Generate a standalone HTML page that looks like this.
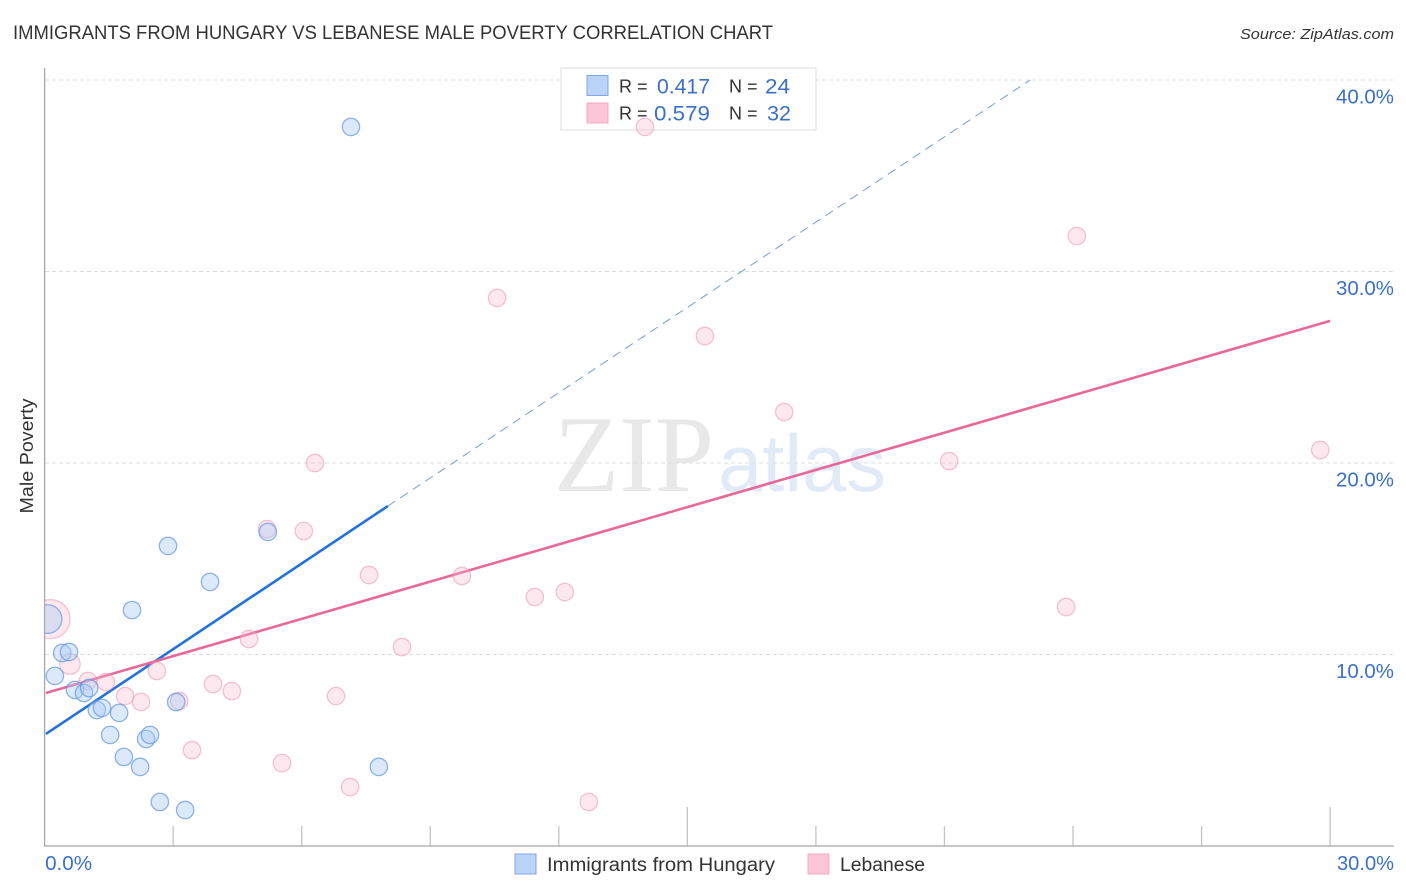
<!DOCTYPE html>
<html lang="en">
<head>
<meta charset="utf-8">
<title>Immigrants from Hungary vs Lebanese Male Poverty Correlation Chart</title>
<style>
html,body{margin:0;padding:0;background:#fff;width:1406px;height:892px;overflow:hidden}
svg{display:block;font-family:"Liberation Sans",sans-serif}
</style>
</head>
<body>
<svg id="chart" width="1406" height="892" viewBox="0 0 1406 892" xmlns="http://www.w3.org/2000/svg">
  <defs>
    <clipPath id="plot-clip"><rect x="45" y="60" width="1349" height="786"/></clipPath>
  </defs>
  <text x="13" y="39" font-size="19.5" fill="#333" textLength="760" lengthAdjust="spacingAndGlyphs">IMMIGRANTS FROM HUNGARY VS LEBANESE MALE POVERTY CORRELATION CHART</text>
  <text x="1394" y="39" font-size="15" font-style="italic" fill="#333" text-anchor="end" textLength="154" lengthAdjust="spacingAndGlyphs">Source: ZipAtlas.com</text>

  <g>
    <text x="554" y="491" font-family="'Liberation Serif',serif" font-size="109" fill="#e8e8e8" textLength="160" lengthAdjust="spacingAndGlyphs">ZIP</text>
    <text x="718" y="491" font-family="'Liberation Sans',sans-serif" font-size="81" fill="#e1ebf8" textLength="168" lengthAdjust="spacingAndGlyphs">atlas</text>
  </g>

  <g id="grid"></g>
  <g id="axes"></g>
  <g id="y-labels"></g>
  <g id="x-labels"></g>

  <text transform="translate(33,456) rotate(-90)" font-size="18" fill="#333" text-anchor="middle" textLength="115" lengthAdjust="spacingAndGlyphs">Male Poverty</text>

  <g>
    <rect x="561" y="68" width="255" height="62" fill="#fff" stroke="#e3e3e3" stroke-width="1.2"/>
    <rect x="587" y="75.5" width="21" height="20" fill="#b9d4f8" stroke="#7fa9e6" stroke-width="1"/>
    <rect x="587" y="103" width="21" height="20" fill="#fcc5d8" stroke="#f4a9c2" stroke-width="1"/>
    <text x="619" y="92.5" font-size="18" fill="#333">R =</text>
    <text x="710" y="93.5" font-size="21" fill="#3a70cc" text-anchor="end" textLength="53" lengthAdjust="spacingAndGlyphs">0.417</text>
    <text x="729" y="92.5" font-size="18" fill="#333">N =</text>
    <text x="765" y="93.5" font-size="21" fill="#3a70cc" textLength="25" lengthAdjust="spacingAndGlyphs">24</text>
    <text x="619" y="119.5" font-size="18" fill="#333">R =</text>
    <text x="710" y="120.5" font-size="21" fill="#3a70cc" text-anchor="end" textLength="56" lengthAdjust="spacingAndGlyphs">0.579</text>
    <text x="729" y="119.5" font-size="18" fill="#333">N =</text>
    <text x="767" y="120.5" font-size="21" fill="#3a70cc" textLength="24" lengthAdjust="spacingAndGlyphs">32</text>
  </g>

  <g id="lines" clip-path="url(#plot-clip)"></g>
  <g id="points" clip-path="url(#plot-clip)"></g>

  <g>
    <rect x="515" y="854" width="21" height="20" fill="#b9d4f8" stroke="#7fa9e6" stroke-width="1"/>
    <text x="547" y="871" font-size="19" fill="#333" textLength="228" lengthAdjust="spacingAndGlyphs">Immigrants from Hungary</text>
    <rect x="808" y="854" width="21" height="20" fill="#fcc5d8" stroke="#f4a9c2" stroke-width="1"/>
    <text x="840" y="871" font-size="19" fill="#333" textLength="85" lengthAdjust="spacingAndGlyphs">Lebanese</text>
  </g>
</svg>
<script>
const hungaryX = [7.15,2.88,5.21,3.86,2.04,0.07,0.41,0.57,0.24,0.71,0.92,1.04,1.22,1.34,1.74,1.53,2.37,2.46,3.07,1.85,2.23,7.80,2.69,3.28];
const hungaryY = [37.55,15.67,16.40,13.79,12.32,11.85,10.08,10.13,8.88,8.15,7.99,8.25,7.10,7.21,6.95,5.80,5.59,5.80,7.52,4.65,4.13,4.13,2.30,1.88];
const hungaryWeight = [1,1,1,1,1,2.7,1,1,1,1,1,1,1,1,1,1,1,1,1,1,1,1,1,1];
const lebaneseX = [14.01,24.09,10.56,15.41,17.26,29.77,21.11,6.31,5.19,6.05,7.57,9.74,11.44,12.14,23.84,4.77,8.34,0.59,1.01,1.43,2.62,1.88,2.25,3.14,3.93,4.37,6.80,3.44,5.54,7.13,12.70,0.14];
const lebaneseY = [37.55,31.85,28.62,26.63,22.66,20.68,20.10,20.00,16.55,16.45,14.15,14.10,13.00,13.26,12.48,10.81,10.39,9.50,8.62,8.56,9.14,7.83,7.52,7.57,8.46,8.09,7.83,5.01,4.33,3.08,2.30,11.85];
const lebaneseWeight = [1,1,1,1,1,1,1,1,1,1,1,1,1,1,1,1,1,1.4,1,1,1,1,1,1,1,1,1,1,1,1,1,5];
const hungaryTrendX = [0.03,8.01];
const hungaryTrendY = [5.85,17.75];
const hungaryExtensionX = [8.01,23.0];
const hungaryExtensionY = [17.75,40.0];
const lebaneseTrendX = [0.03,30];
const lebaneseTrendY = [7.99,27.42];
const yTicks = [10,20,30,40];
const yTickLabels = ["10.0%","20.0%","30.0%","40.0%"];
const xTicks = [3,6,9,12,15,18,21,24,27,30];
const xMajorTicks = [15,30];
const xEndTicks = [0,30];
const xEndLabels = ["0.0%","30.0%"];

const svgNS = "http://www.w3.org/2000/svg";
const xScale = v => 44.6 + v * 42.85;
const yScale = v => 846 - v * 19.15;
const rScale = w => 8.7 * Math.sqrt(w);

function make(tag, attrs, parent) {
  const el = document.createElementNS(svgNS, tag);
  for (const k in attrs) el.setAttribute(k, attrs[k]);
  document.getElementById(parent).appendChild(el);
  return el;
}

yTicks.forEach((t, i) => {
  const line = make("line", {x1:45, x2:1394, y1:yScale(t), y2:yScale(t), stroke:"#dedede", "stroke-width":1, "stroke-dasharray":"4 3"}, "grid");
  
  
  const label = make("text", {x:1394, y:yScale(t)+23.5, "font-size":20, fill:"#3a70cc", "text-anchor":"end", textLength:58, lengthAdjust:"spacingAndGlyphs"}, "y-labels");
  
  
  label.textContent = yTickLabels[i];
});

xTicks.forEach(t => {
  const major = xMajorTicks.includes(t);
  const tick = make("line", {x1:xScale(t), x2:xScale(t), y1:major ? 807 : 826, y2:846, stroke:"#c4c4c4", "stroke-width":1.3}, "axes");
  
  
});

const yAxis = make("line", {x1:44.6, x2:44.6, y1:68, y2:846, stroke:"#a8a8a8", "stroke-width":1.3}, "axes");


const xAxis = make("line", {x1:44, x2:1394, y1:846, y2:846, stroke:"#a8a8a8", "stroke-width":1.3}, "axes");



xEndTicks.forEach((t, i) => {
  const label = make("text", {x:i === 0 ? xScale(t) + 0.5 : 1394, y:870, "font-size":20, fill:"#3a70cc", "text-anchor":i === 0 ? "start" : "end", textLength:i === 0 ? 47 : 57, lengthAdjust:"spacingAndGlyphs"}, "x-labels");
  
  
  label.textContent = xEndLabels[i];
});

const hungaryLine = make("line", {x1:xScale(hungaryTrendX[0]), y1:yScale(hungaryTrendY[0]), x2:xScale(hungaryTrendX[1]), y2:yScale(hungaryTrendY[1]), stroke:"#2471d8", "stroke-width":2.6}, "lines");


const hungaryDash = make("line", {x1:xScale(hungaryExtensionX[0]), y1:yScale(hungaryExtensionY[0]), x2:xScale(hungaryExtensionX[1]), y2:yScale(hungaryExtensionY[1]), stroke:"#6f9fe0", "stroke-width":1, "stroke-dasharray":"9 6"}, "lines");


const lebaneseLine = make("line", {x1:xScale(lebaneseTrendX[0]), y1:yScale(lebaneseTrendY[0]), x2:xScale(lebaneseTrendX[1]), y2:yScale(lebaneseTrendY[1]), stroke:"#e8689a", "stroke-width":2.6}, "lines");



lebaneseX.forEach((x, i) => {
  const c = make("circle", {cx:xScale(x), cy:yScale(lebaneseY[i]), r:rScale(lebaneseWeight[i]), fill:"#f9b8cf", "fill-opacity":0.32, stroke:"#f09ab8", "stroke-opacity":0.6, "stroke-width":1.3}, "points");
  
  
});
hungaryX.forEach((x, i) => {
  const c = make("circle", {cx:xScale(x), cy:yScale(hungaryY[i]), r:rScale(hungaryWeight[i]), fill:"#a9caf3", "fill-opacity":0.42, stroke:"#5f95e0", "stroke-opacity":0.7, "stroke-width":1.3}, "points");
  
  
});
</script>
</body>
</html>
